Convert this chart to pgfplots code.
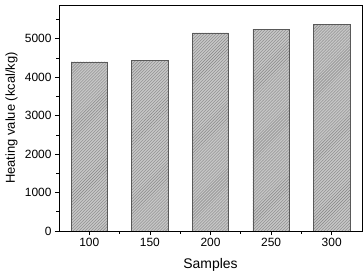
\documentclass[border=0pt]{standalone}
\usepackage{pgfplots}
\pgfplotsset{compat=1.18}
\usepackage{fontspec}
\setmainfont{Liberation Sans}
\usetikzlibrary{patterns}
\begin{document}
\begin{tikzpicture}
\begin{axis}[
  at={(0,0)}, anchor=south west,
  scale only axis, width=303bp, height=226bp,
  xmin=75, xmax=325, ymin=0, ymax=5880,
  xtick={100,150,200,250,300},
  minor xtick={125,175,225,275},
  ytick={0,1000,2000,3000,4000,5000},
  minor ytick={500,1500,2500,3500,4500,5500},
  tick align=outside, tick pos=left,
  major tick length=4bp, minor tick length=2.5bp,
  axis line style={line width=0.9pt},
  every tick/.style={line width=0.8pt, black},
  /pgf/number format/assume math mode=true,
  yticklabel style={font=\fontsize{12}{13}\selectfont, /pgf/number format/1000 sep={}},
  xticklabel style={font=\fontsize{12}{13}\selectfont},
  xlabel={Samples}, ylabel={Heating value (kcal/kg)},
  label style={font=\fontsize{13}{15}\selectfont},
  xlabel style={font=\fontsize{14}{16}\selectfont, at={(axis description cs:0.5,-0.148)}, anchor=center},
  ylabel style={at={(axis description cs:-0.157,0.5)}, anchor=center},
]
\addplot[ybar, bar width=30, draw=black!65, line width=0.6pt,
  fill=gray!45, postaction={pattern=north east lines, pattern color=gray!95}]
  coordinates {(100,4400) (150,4435) (200,5155) (250,5250) (300,5380)};
\end{axis}
\pgfresetboundingbox
\path (-59bp,-40bp) rectangle (305bp,231bp);
\end{tikzpicture}
\end{document}
